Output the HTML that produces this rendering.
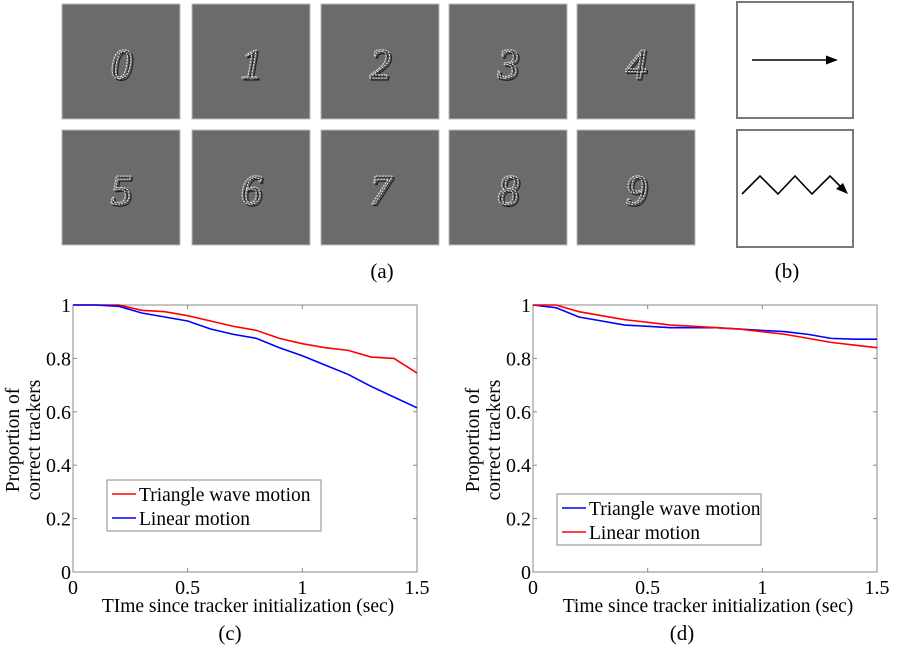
<!DOCTYPE html>
<html><head><meta charset="utf-8"><style>
html,body{margin:0;padding:0;background:#fff;width:920px;height:648px;overflow:hidden}
svg{display:block;font-family:"Liberation Serif",serif}
</style></head><body>
<svg id="fig" width="920" height="648" xmlns="http://www.w3.org/2000/svg">
<g id="digits"></g>
<text x="382" y="278" font-size="21" text-anchor="middle">(a)</text>
<g>
<rect x="737" y="2" width="116" height="116" fill="#fff" stroke="#77797d" stroke-width="2"/>
<line x1="752" y1="60" x2="830" y2="60" stroke="#000" stroke-width="1.6"/>
<polygon points="838,60 826,55.5 826,64.5" fill="#000"/>
<rect x="737" y="130" width="116" height="117" fill="#fff" stroke="#77797d" stroke-width="2"/>
<polyline points="742,194 760,176 778,194 795,176 812,194 830,176 843,189" fill="none" stroke="#000" stroke-width="1.6"/>
<polygon points="848,194 836,189 843,183" fill="#000"/>
</g>
<text x="787" y="278" font-size="21" text-anchor="middle">(b)</text>
<g id="chartC"></g>
<g id="chartD"></g>
<text x="230" y="640" font-size="21" text-anchor="middle">(c)</text>
<text x="682" y="640" font-size="21" text-anchor="middle">(d)</text>
</svg>
<script>
var xValues=[0,0.1,0.2,0.3,0.4,0.5,0.6,0.7,0.8,0.9,1.0,1.1,1.2,1.3,1.4,1.5];
var cTriangle=[1,1,1,0.98,0.975,0.96,0.94,0.92,0.905,0.875,0.855,0.84,0.83,0.805,0.80,0.745];
var cLinear=[1,1,0.995,0.97,0.955,0.94,0.91,0.89,0.875,0.84,0.81,0.775,0.74,0.695,0.655,0.615];
var dTriangle=[1,0.99,0.955,0.94,0.925,0.92,0.915,0.915,0.915,0.91,0.905,0.9,0.89,0.875,0.872,0.872];
var dLinear=[1,1,0.975,0.96,0.945,0.935,0.925,0.92,0.915,0.91,0.9,0.89,0.875,0.86,0.85,0.84];
var xTicks=[0,0.5,1,1.5];
var xTickLabels=["0","0.5","1","1.5"];
var yTicks=[0,0.2,0.4,0.6,0.8,1];
var yTickLabels=["0","0.2","0.4","0.6","0.8","1"];
var digitLabels=["0","1","2","3","4","5","6","7","8","9"];

var NS="http://www.w3.org/2000/svg";
function mk(t,a,p){var e=document.createElementNS(NS,t);for(var k in a)e.setAttribute(k,a[k]);p.appendChild(e);return e;}

var dg=document.getElementById('digits');
var tileX=[62,192,321,449,577],tileY=[4,130];
digitLabels.forEach(function(d,i){
  var x=tileX[i%5],y=tileY[Math.floor(i/5)];
  var r=mk('rect',{x:x,y:y,width:118,height:115,fill:'#6b6b6b',stroke:'#bbb','stroke-width':1},dg);
  
  
  var sh=mk('text',{x:x+61,y:y+76,'font-size':42,'font-style':'italic','text-anchor':'middle',fill:'none',stroke:'#222','stroke-width':1.2},dg);
  sh.textContent=d;
  
  
  var t=mk('text',{x:x+59,y:y+74,'font-size':42,'font-style':'italic','text-anchor':'middle',fill:'none',stroke:'#ddd','stroke-width':1.1,'stroke-dasharray':'2 1'},dg);
  t.textContent=d;
  
  
});

function chart(g,x0,x1,xlabel,s1,s2,legend){
  var y0=572,y1=305;
  function sx(v){return x0+(v/1.5)*(x1-x0);}
  function sy(v){return y0-v*(y0-y1);}
  var box=mk('rect',{x:x0,y:y1,width:x1-x0,height:y0-y1,fill:'#fff',stroke:'#888','stroke-width':1},g);
  
  
  xTicks.forEach(function(v,i){
    mk('line',{x1:sx(v),y1:y0,x2:sx(v),y2:y0-4,stroke:'#888'},g);
    mk('line',{x1:sx(v),y1:y1,x2:sx(v),y2:y1+4,stroke:'#888'},g);
    var t=mk('text',{x:sx(v),y:y0+22,'font-size':20,'text-anchor':'middle'},g);
    t.textContent=xTickLabels[i];
    
    
  });
  yTicks.forEach(function(v,i){
    mk('line',{x1:x0,y1:sy(v),x2:x0+4,y2:sy(v),stroke:'#888'},g);
    mk('line',{x1:x1,y1:sy(v),x2:x1-4,y2:sy(v),stroke:'#888'},g);
    var t=mk('text',{x:x0-2,y:sy(v)+7,'font-size':20,'text-anchor':'end'},g);
    t.textContent=yTickLabels[i];
    
    
  });
  var xl=mk('text',{x:(x0+x1)/2+3,y:y0+40,'font-size':19.5,'text-anchor':'middle'},g);
  xl.textContent=xlabel;
  
  
  var yl=mk('text',{transform:'translate('+(x0-54)+',440) rotate(-90)','font-size':19.5,'text-anchor':'middle'},g);
  yl.textContent='Proportion of';
  
  
  var yl2=mk('text',{transform:'translate('+(x0-33)+',440) rotate(-90)','font-size':19.5,'text-anchor':'middle'},g);
  yl2.textContent='correct trackers';
  
  
  [s1,s2].forEach(function(s){
    var pts=xValues.map(function(v,i){return sx(v)+','+sy(s.data[i]);}).join(' ');
    var p=mk('polyline',{points:pts,fill:'none',stroke:s.color,'stroke-width':1.6},g);
    
    
  });
  var lg=mk('g',{},g);
  
  
  mk('rect',{x:legend.x,y:legend.y,width:legend.w,height:51,fill:'#fff',stroke:'#888'},lg);
  [s1,s2].forEach(function(s,i){
    var yy=legend.y+14+i*24;
    mk('line',{x1:legend.x+5,y1:yy,x2:legend.x+29,y2:yy,stroke:s.color,'stroke-width':1.6},lg);
    var t=mk('text',{x:legend.x+32,y:yy+7,'font-size':19.5},lg);
    t.textContent=s.label;
    
    
  });
}
chart(document.getElementById('chartC'),73,417,'TIme since tracker initialization (sec)',
  {data:cTriangle,color:'#f00',label:'Triangle wave motion',name:'triangle'},
  {data:cLinear,color:'#00f',label:'Linear motion',name:'linear'},{x:107,y:480,w:214});
chart(document.getElementById('chartD'),533,877,'Time since tracker initialization (sec)',
  {data:dTriangle,color:'#00f',label:'Triangle wave motion',name:'triangle'},
  {data:dLinear,color:'#f00',label:'Linear motion',name:'linear'},{x:557,y:494,w:204});
</script>
</body></html>
